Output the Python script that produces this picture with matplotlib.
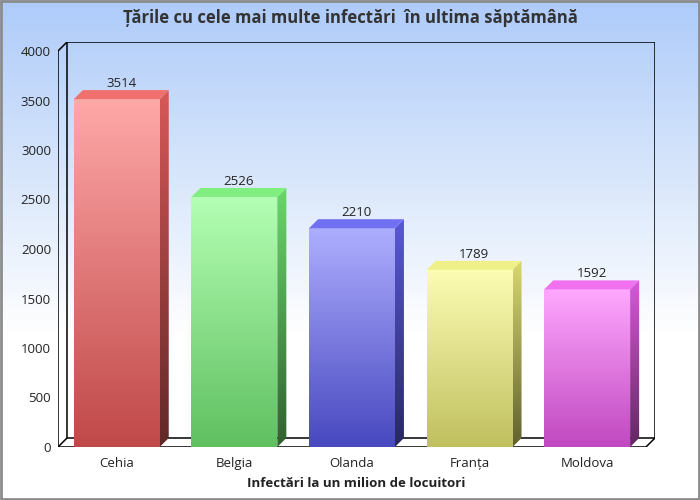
import numpy as np
import matplotlib
matplotlib.use('Agg')
import matplotlib.pyplot as plt
from matplotlib.colors import LinearSegmentedColormap
from matplotlib.patches import Polygon, Rectangle

tari = ['Cehia', 'Belgia', 'Olanda', 'Franța', 'Moldova']
valori = [3514, 2526, 2210, 1789, 1592]
culori_sus = ['#ffa8a8', '#b4ffb4', '#aeaeff', '#fdfdb4', '#ffa8ff']
culori_jos = ['#c04848', '#60c060', '#4848c0', '#c0c060', '#c048c0']
culori_lat_sus = ['#d85858', '#6ad86a', '#5858d8', '#d8d870', '#d858d8']
culori_lat_jos = ['#602828', '#306030', '#282860', '#606030', '#602860']
culori_top = ['#f07070', '#80ee80', '#7070f0', '#f0f088', '#f070f0']
y_ticks = [0, 500, 1000, 1500, 2000, 2500, 3000, 3500, 4000]

plt.rcParams['font.family'] = ['Open Sans', 'DejaVu Sans']

fig = plt.figure(figsize=(7, 5), dpi=100)

# fundal cu gradient
bg = fig.add_axes([0, 0, 1, 1], zorder=-10)
grad = np.linspace(0, 1, 256).reshape(-1, 1)
cmap_bg = LinearSegmentedColormap.from_list('bg', ['#aecbfa', '#d6e5fb', '#ffffff', '#ffffff'])
bg.imshow(grad, aspect='auto', cmap=cmap_bg, extent=[0, 1, 0, 1], origin='upper')
bg.set_xlim(0, 1)
bg.set_ylim(0, 1)
bg.axis('off')
bg.add_patch(Rectangle((0.0015, 0.002), 0.997, 0.996, fill=False, ec='#8c8c8c', lw=2, transform=bg.transAxes))

# axa principala (fata la 58..646 px, perete spate pana la 655 px)
W, H = 700, 500
px_x = 117.4
dx = 9 / px_x
dy = 9 * 4000 / 396
ax = fig.add_axes([58 / W, 53 / H, 597 / W, 405 / H])
ax.patch.set_alpha(0)
ax.set_xlim(-0.5, 4.5 + dx)
ax.set_ylim(0, 4000 + dy)
for s in ax.spines.values():
    s.set_visible(False)

# cadrul 3d
k = dict(color='black', lw=1.1, zorder=1, solid_capstyle='butt')
ax.plot([-0.5, -0.5], [0, 4000], **k)
ax.plot([-0.5, -0.5 + dx], [4000, 4000 + dy], **k)
ax.plot([-0.5 + dx, 4.5 + dx], [4000 + dy, 4000 + dy], **k)
ax.plot([4.5 + dx, 4.5 + dx], [4000 + dy, dy], **k)
ax.plot([-0.5 + dx, 4.5 + dx], [dy, dy], **k)
ax.plot([-0.5 + dx, -0.5 + dx], [dy, 4000 + dy], **k)
ax.plot([-0.5, 4.5], [0, 0], **k)
ax.plot([4.5, 4.5 + dx], [0, dy], **k)
ax.plot([-0.5, -0.5 + dx], [0, dy], **k)
ax.add_patch(Polygon([(-0.5, 0), (4.5, 0), (4.5 + dx, dy), (-0.5 + dx, dy)], fc='white', ec='none', zorder=0.5))

w = 0.73
for i, v in enumerate(valori):
    x0, x1 = i - w / 2, i + w / 2
    # fata
    cm_f = LinearSegmentedColormap.from_list('f', [culori_jos[i], culori_sus[i]])
    im = ax.imshow(grad, aspect='auto', cmap=cm_f, extent=[x0, x1, 0, v], origin='lower', zorder=3)
    r = Rectangle((x0, 0), w, v, transform=ax.transData)
    im.set_clip_path(r)
    # lateral
    cm_l = LinearSegmentedColormap.from_list('l', [culori_lat_jos[i], culori_lat_sus[i]])
    im2 = ax.imshow(grad, aspect='auto', cmap=cm_l, extent=[x1, x1 + dx, 0, v + dy], origin='lower', zorder=3)
    p = Polygon([(x1, 0), (x1 + dx, dy), (x1 + dx, v + dy), (x1, v)], transform=ax.transData)
    im2.set_clip_path(p)
    # sus
    ax.add_patch(Polygon([(x0, v), (x1, v), (x1 + dx, v + dy), (x0 + dx, v + dy)],
                         fc=culori_top[i], ec='none', zorder=3))
    ax.text(i + dx / 2, v + dy, str(v), ha='center', va='bottom', fontsize=9.5, color='#222222', zorder=4)

ax.set_xticks(range(len(tari)))
ax.set_xticklabels(tari, fontsize=9.5, color='#222222')
ax.set_yticks(y_ticks)
ax.set_yticklabels([str(t) for t in y_ticks], fontsize=9.5, color='#222222')
ax.tick_params(length=0, axis='y', pad=5)
ax.tick_params(length=0, axis='x', pad=7)
ax.set_xlabel('Infectări la un milion de locuitori', fontsize=9.5, fontweight='bold', color='#222222', labelpad=5)

fig.text(0.5, 1 - 18 / H, 'Țările cu cele mai multe infectări  în ultima săptămână',
         ha='center', va='center', fontsize=12, fontweight='bold', color='#333333')

fig.savefig('out.png', dpi=100)
